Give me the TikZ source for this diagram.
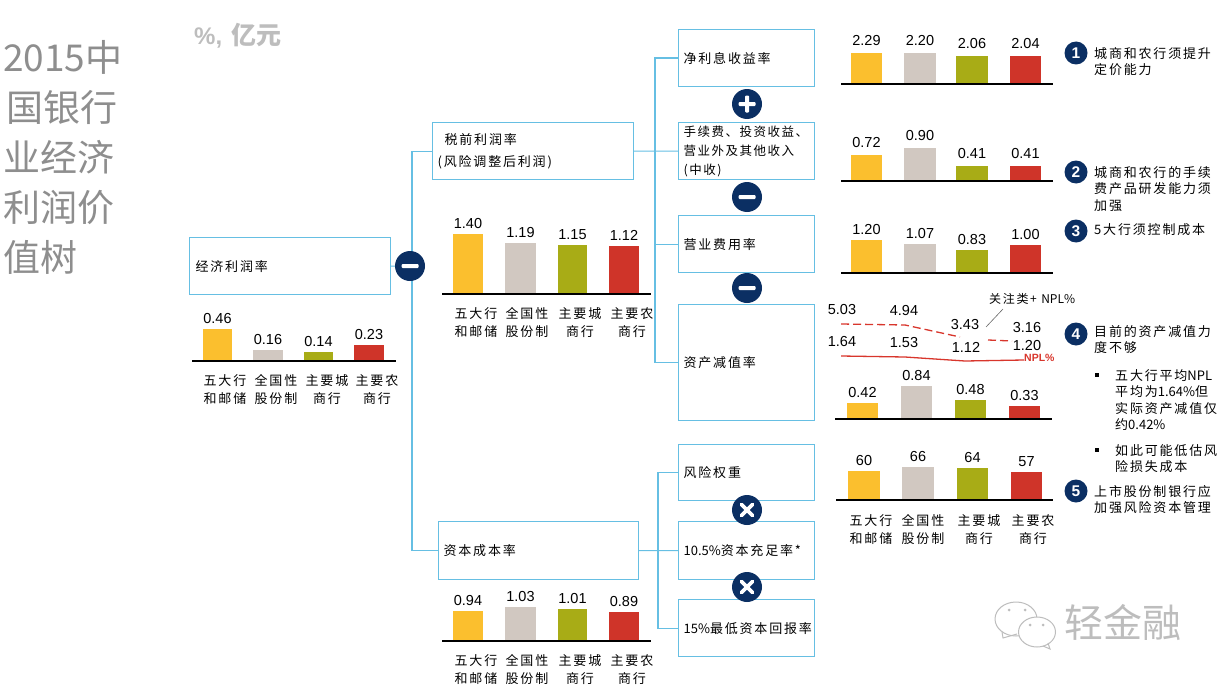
\documentclass[tikz,border=0pt]{standalone}
\usepackage{fontspec}
\setmainfont{Liberation Sans}
\newfontfamily\cjk[LetterSpace=14]{Noto Sans CJK SC}
\newfontfamily\cjkfee[LetterSpace=12]{Noto Sans CJK SC}
\newfontfamily\cjktitle{Noto Sans CJK SC}
\definecolor{boxline}{HTML}{66BFE3}
\definecolor{navy}{HTML}{0B2F63}
\definecolor{byellow}{HTML}{FBBF2E}
\definecolor{bgrey}{HTML}{D1C8C1}
\definecolor{bgreen}{HTML}{A8AC16}
\definecolor{bred}{HTML}{CF3429}
\definecolor{linered}{HTML}{D8362C}
\definecolor{titlegrey}{HTML}{8E8E8E}
\definecolor{markgrey}{HTML}{BDBDBD}
\newcommand{\cnsize}{\fontsize{13}{19}\selectfont\cjk}
\newcommand{\lat}[1]{{\cjktitle #1}}
\def\valgap{5}
\tikzset{
  x=1pt,y=-1pt,
  boxnode/.style={draw=boxline,line width=1.2pt,fill=white,anchor=north west,align=left,inner xsep=5pt,inner ysep=0pt,font=\cnsize},
  wire/.style={draw=boxline,line width=1.2pt},
  opcirc/.style={circle,fill=navy,minimum size=30pt,inner sep=0pt},
  numcirc/.style={circle,fill=navy,text=white,minimum size=23pt,inner sep=0pt,font=\fontsize{15.5}{15.5}\selectfont\bfseries},
  val/.style={font=\fontsize{14.5}{14.5}\selectfont,inner sep=0pt},
  axisline/.style={draw=black,line width=1.2pt},
  cat/.style={font=\fontsize{13}{18}\selectfont\cjk,align=center,inner sep=0pt},
  note/.style={font=\fontsize{13}{16.5}\selectfont\cjk,align=left,anchor=west,inner sep=0pt},
  bulletmark/.style={inner sep=0pt,minimum size=4pt,fill=black}
}
% \bxn{name}{x1}{y1}{x2}{y2}{text}
\newcommand{\bxn}[6]{\pgfmathsetmacro{\boxw}{#4-#2}\pgfmathsetmacro{\boxh}{#5-#3}%
  \node[boxnode,minimum height=\boxh pt,text width=\boxw pt-10pt] (#1) at (#2,#3) {#6};}
\newcommand{\onebar}[6]{\fill[#1] (#2,#4) rectangle (#3,#5);
  \node[val,anchor=south] at ({(#2+#3)/2},{#4-\valgap}) {#6};}
\newcommand{\cats}[5]{%
  \node[cat,anchor=north] at (#2,#1) {五大行\\和邮储};
  \node[cat,anchor=north] at (#3,#1) {全国性\\股份制};
  \node[cat,anchor=north] at (#4,#1) {主要城\\商行};
  \node[cat,anchor=north] at (#5,#1) {主要农\\商行};}
\newcommand{\opn}[4]{\node[opcirc] (#1) at (#2,#3) {};
  \fill[white,rounded corners=1pt] (#2-8.5,#3-2) rectangle (#2+8.5,#3+2);
  \if#4p\fill[white,rounded corners=1pt] (#2-2,#3-8.5) rectangle (#2+2,#3+8.5);\fi}
\newcommand{\opx}[3]{\node[opcirc] (#1) at (#2,#3) {};
  \draw[white,line width=3.6pt,line cap=round] (#2-5.5,#3-5.5) -- (#2+5.5,#3+5.5) (#2-5.5,#3+5.5) -- (#2+5.5,#3-5.5);}
\begin{document}
\begin{tikzpicture}
\useasboundingbox (0,0) rectangle (1223,685);
% title
\node[anchor=north west,inner sep=0pt,align=left,text=titlegrey,font=\fontsize{37}{50}\selectfont\cjktitle] (title) at (3,40)
  {2015中\\\hspace*{3pt}国银行\\业经济\\利润价\\值树};
\node[anchor=west,inner sep=0pt,text=markgrey,font=\fontsize{24}{24}\selectfont\bfseries] (unit) at (194,36) {\%,\hspace{3pt} {\fontsize{25}{25}\selectfont\cjktitle 亿元}};
% boxes
\bxn{econ}{189}{237}{390}{294}{\hspace*{1pt}经济利润率}
\bxn{pretax}{432}{122}{633}{179}{\hspace*{7pt}税前利润率\\[3pt](风险调整后利润)}
\bxn{capcost}{438}{521}{638}{579}{资本成本率}
\bxn{nim}{678}{29}{814}{86}{净利息收益率}
\bxn{fee}{678}{122}{814}{179}{\fontsize{12.5}{19}\selectfont\cjkfee 手续费、投资收益、\\营业外及其他收入\\(中收)}
\bxn{opex}{678}{215}{814}{272}{营业费用率}
\bxn{impair}{678}{304}{814}{420}{资产减值率}
\bxn{rw}{678}{444}{814}{500}{风险权重}
\bxn{car}{678}{521}{814}{579}{\lat{10.5\%}资本充足率*}
\bxn{roe}{678}{599}{814}{656}{\lat{15\%}最低资本回报率}
% trunk connectors
\coordinate (ta) at (412,266.1);
\coordinate (tb) at (655,151.1);
\coordinate (tc) at (658,550.6);
\draw[wire] (econ.east) -- (ta);
\draw[wire] (ta) |- (pretax.west);
\draw[wire] (ta) |- (capcost.west);
\draw[wire] (pretax.east) -- (tb);
\draw[wire] (tb) |- (nim.west);
\draw[wire] (tb) -- (fee.west);
\draw[wire] (tb) |- (opex.west);
\draw[wire] (tb) |- (impair.west);
\draw[wire] (capcost.east) -- (tc);
\draw[wire] (tc) |- (rw.west);
\draw[wire] (tc) -- (car.west);
\draw[wire] (tc) |- (roe.west);
% operators
\opn{o1}{410}{266}{m}
\opn{o2}{747}{104}{p}
\opn{o3}{747}{197}{m}
\opn{o4}{747}{288}{m}
\opx{o5}{747}{510}
\opx{o6}{747}{587}
% bars: econ
\onebar{byellow}{203}{232}{329}{361}{0.46}
\onebar{bgrey}{253}{283}{350}{361}{0.16}
\onebar{bgreen}{304}{333}{352}{361}{0.14}
\onebar{bred}{354}{384}{345}{361}{0.23}
\draw[axisline] (192,361) -- (396,361);
\cats{374}{225}{276}{327}{377}
% bars: pretax
\onebar{byellow}{453}{483}{234}{294}{1.40}
\onebar{bgrey}{505}{536}{243}{294}{1.19}
\onebar{bgreen}{558}{587}{245}{294}{1.15}
\onebar{bred}{609}{639}{246}{294}{1.12}
\draw[axisline] (442,294) -- (651,294);
\cats{307}{476}{527}{580}{632}
% bars: capcost
\onebar{byellow}{453}{483}{611}{641}{0.94}
\onebar{bgrey}{505}{536}{607}{641}{1.03}
\onebar{bgreen}{558}{587}{609}{641}{1.01}
\onebar{bred}{609}{639}{612}{641}{0.89}
\draw[axisline] (442,641) -- (651,641);
\cats{654.5}{476}{527}{580}{632}
% right groups
\def\valgap{7}
\onebar{byellow}{851}{882}{53}{84}{2.29}
\onebar{bgrey}{904}{936}{53}{84}{2.20}
\onebar{bgreen}{956}{988}{56}{84}{2.06}
\onebar{bred}{1010}{1041}{56}{84}{2.04}
\draw[axisline] (841,84) -- (1053,84);
\onebar{byellow}{851}{882}{155}{181}{0.72}
\onebar{bgrey}{904}{936}{148}{181}{0.90}
\onebar{bgreen}{956}{988}{166}{181}{0.41}
\onebar{bred}{1010}{1041}{166}{181}{0.41}
\draw[axisline] (841,181) -- (1053,181);
\def\valgap{5}
\onebar{byellow}{851}{882}{240}{273}{1.20}
\onebar{bgrey}{904}{936}{244}{273}{1.07}
\onebar{bgreen}{956}{988}{250}{273}{0.83}
\onebar{bred}{1010}{1041}{245}{273}{1.00}
\draw[axisline] (841,273) -- (1053,273);
\onebar{byellow}{847}{878}{403}{419}{0.42}
\onebar{bgrey}{901}{932}{386}{419}{0.84}
\onebar{bgreen}{955}{986}{400}{419}{0.48}
\onebar{bred}{1009}{1040}{406}{419}{0.33}
\draw[axisline] (835,419) -- (1052,419);
\onebar{byellow}{848}{880}{471}{500}{60}
\onebar{bgrey}{902}{934}{467}{500}{66}
\onebar{bgreen}{957}{988}{468}{500}{64}
\onebar{bred}{1011}{1042}{472}{500}{57}
\draw[axisline] (836,500) -- (1053,500);
\cats{514}{871}{923}{979}{1033}
% line chart
\coordinate (d1) at (841,324);
\coordinate (d2) at (905,325);
\coordinate (d3) at (960,337);
\coordinate (d3b) at (988,340);
\coordinate (d4) at (1012,341);
\coordinate (n1) at (841,356);
\coordinate (n2) at (905,357);
\coordinate (n3) at (965,361);
\coordinate (n4) at (1024,360);
\draw[linered,line width=1.3pt,dash pattern=on 8pt off 4pt] (d1) -- (d2) -- (d3);
\draw[linered,line width=1.3pt,dash pattern=on 8pt off 4pt] (d3b) -- (d4);
\draw[linered,line width=1.3pt] (n1) -- (n2) -- (n3) -- (n4);
\foreach \px/\py/\tx in {842/310/5.03,904/311/4.94,965/325/3.43,1027/328/3.16,842/342/1.64,904/343/1.53,966/347/1.12,1027/346/1.20}
  \node[val] at (\px,\py) {\tx};
\node[anchor=west,inner sep=0pt,text=linered,font=\fontsize{10.5}{10.5}\selectfont\bfseries] (npl) at (1024,358) {NPL\%};
\node[anchor=west,inner sep=0pt,font=\fontsize{12}{12}\selectfont\cjk] (gz) at (989,299) {关注类+ \lat{NPL\%}};
\coordinate (gza) at (1003,309);
\coordinate (gzb) at (986,327);
\draw[black!60,line width=0.6pt] (gza) -- (gzb);
% callouts
\node[numcirc] (c1) at (1076,53) {1};
\node[numcirc] (c2) at (1076,172) {2};
\node[numcirc] (c3) at (1076,231) {3};
\node[numcirc] (c4) at (1076,334) {4};
\node[numcirc] (c5) at (1076,491) {5};
\node[note,anchor=north west] at (1094,47) {城商和农行须提升\\定价能力};
\node[note,anchor=north west] at (1094,166) {城商和农行的手续\\费产品研发能力须\\加强};
\node[note] at (1094,230) {5大行须控制成本};
\node[note,anchor=north west] at (1094,325) {目前的资产减值力\\度不够};
\node[bulletmark] at (1097,375) {};
\node[note,anchor=north west] at (1115,369) {五大行平均\lat{NPL}\\平均为\lat{1.64\%}但\\实际资产减值仅\\约\lat{0.42\%}};
\node[bulletmark] at (1097,449.5) {};
\node[note,anchor=north west] at (1115,444) {如此可能低估风\\险损失成本};
\node[note,anchor=north west] at (1094,485) {上市股份制银行应\\加强风险资本管理};
% watermark
\draw[markgrey,line width=1pt,fill=white] (1016,619) ellipse [x radius=21,y radius=17];
\draw[markgrey,line width=1pt] (1002,632) -- (1003,638) -- (1017,634);
\draw[markgrey,line width=1pt,fill=white] (1037,632) ellipse [x radius=18.5,y radius=15];
\draw[markgrey,line width=1pt] (1043,646) -- (1050,649) -- (1048,643);
\foreach \ex/\ey in {1009/610,1025/610,1030/625,1043/625}
  \fill[markgrey] (\ex,\ey) circle [radius=1.5];
\node[inner sep=0pt,anchor=west,text=markgrey,font=\fontsize{39}{39}\selectfont\cjktitle] (wm) at (1064,622) {轻金融};
\end{tikzpicture}
\end{document}
